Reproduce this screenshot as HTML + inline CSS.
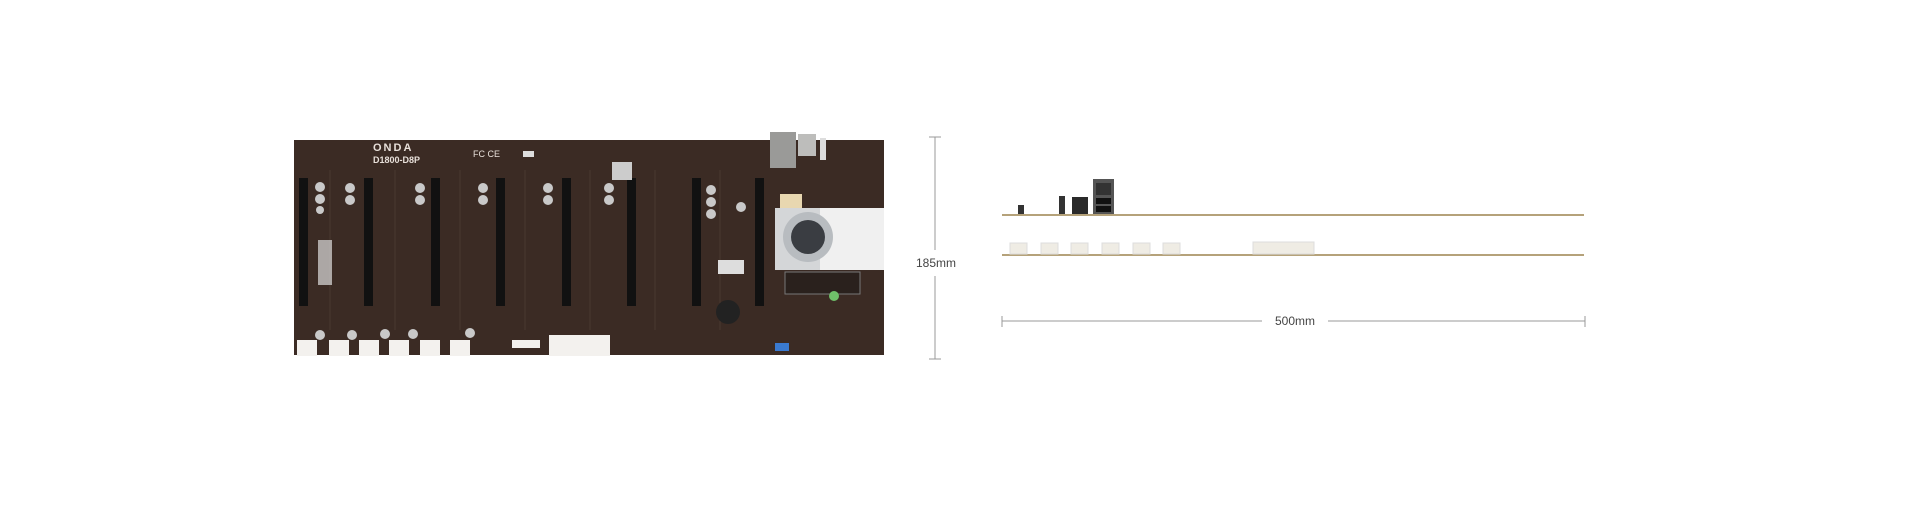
<!DOCTYPE html>
<html><head><meta charset="utf-8"><style>
html,body{margin:0;padding:0;background:#fff;width:1920px;height:528px;overflow:hidden}
svg{display:block}
text{font-family:"Liberation Sans",sans-serif}
</style></head><body>
<svg width="1920" height="528" viewBox="0 0 1920 528" xmlns="http://www.w3.org/2000/svg">
<rect x="294" y="140" width="590" height="215" fill="#3b2b24"/>
<g fill="none" stroke="#4a382f" stroke-width="1">
<path d="M330 170 L330 330 M395 170 L395 330 M460 170 L460 330 M525 170 L525 330 M590 170 L590 330 M655 170 L655 330 M720 170 L720 330"/>
</g>
<text x="373" y="151" font-size="11" fill="#e8e0da" font-weight="bold" letter-spacing="2">ONDA</text>
<text x="373" y="163" font-size="9" fill="#e8e0da" font-weight="bold">D1800-D8P</text>
<text x="473" y="157" font-size="9" fill="#e8e0da">FC CE</text>
<rect x="523" y="151" width="11" height="6" fill="#ddd"/>
<g fill="#111">
<rect x="299" y="178" width="9" height="128"/>
<rect x="364" y="178" width="9" height="128"/>
<rect x="431" y="178" width="9" height="128"/>
<rect x="496" y="178" width="9" height="128"/>
<rect x="562" y="178" width="9" height="128"/>
<rect x="627" y="178" width="9" height="128"/>
<rect x="692" y="178" width="9" height="128"/>
<rect x="755" y="178" width="9" height="128"/>
</g>
<g fill="#c9c9c9">
<circle cx="320" cy="187" r="5"/><circle cx="320" cy="199" r="5"/><circle cx="320" cy="210" r="4"/>
<circle cx="350" cy="188" r="5"/><circle cx="350" cy="200" r="5"/>
<circle cx="420" cy="188" r="5"/><circle cx="420" cy="200" r="5"/>
<circle cx="483" cy="188" r="5"/><circle cx="483" cy="200" r="5"/>
<circle cx="548" cy="188" r="5"/><circle cx="548" cy="200" r="5"/>
<circle cx="609" cy="188" r="5"/><circle cx="609" cy="200" r="5"/>
<circle cx="711" cy="190" r="5"/><circle cx="711" cy="202" r="5"/><circle cx="711" cy="214" r="5"/>
<circle cx="741" cy="207" r="5"/>
<circle cx="320" cy="335" r="5"/><circle cx="352" cy="335" r="5"/><circle cx="385" cy="334" r="5"/><circle cx="413" cy="334" r="5"/><circle cx="470" cy="333" r="5"/>
</g>
<rect x="318" y="240" width="14" height="45" fill="#ddd" opacity="0.7"/>
<rect x="612" y="162" width="20" height="18" fill="#ccc"/>
<g fill="#f3f1ee">
<rect x="297" y="340" width="20" height="16"/><rect x="329" y="340" width="20" height="16"/>
<rect x="359" y="340" width="20" height="16"/><rect x="389" y="340" width="20" height="16"/>
<rect x="420" y="340" width="20" height="16"/><rect x="450" y="340" width="20" height="16"/>
<rect x="549" y="335" width="61" height="21"/>
<rect x="512" y="340" width="28" height="8"/>
</g>
<rect x="770" y="132" width="26" height="36" fill="#9a9a98"/>
<rect x="798" y="134" width="18" height="22" fill="#bdbdbb"/>
<rect x="820" y="138" width="6" height="22" fill="#ddd"/>
<rect x="780" y="194" width="22" height="14" fill="#e8d7b0"/>
<rect x="775" y="208" width="109" height="62" fill="#f0f0f0"/>
<rect x="775" y="208" width="45" height="62" fill="#d4d6d8"/>
<circle cx="808" cy="237" r="25" fill="#b8bcc0"/>
<circle cx="808" cy="237" r="17" fill="#3a3d42"/>
<rect x="785" y="272" width="75" height="22" fill="#2a211d" stroke="#777"/>
<rect x="718" y="260" width="26" height="14" fill="#ddd"/>
<circle cx="728" cy="312" r="12" fill="#222"/>
<circle cx="834" cy="296" r="5" fill="#6fc06a"/>
<rect x="775" y="343" width="14" height="8" fill="#3a7ad0"/>
<g stroke="#999" stroke-width="1">
<line x1="935" y1="137" x2="935" y2="250"/>
<line x1="935" y1="276" x2="935" y2="359"/>
<line x1="929" y1="137" x2="941" y2="137"/>
<line x1="929" y1="359" x2="941" y2="359"/>
</g>
<text x="936" y="267" font-size="12" fill="#444" text-anchor="middle">185mm</text>
<rect x="1002" y="214" width="582" height="2" fill="#b5a27a"/>
<rect x="1002" y="254" width="582" height="2" fill="#b5a27a"/>
<rect x="1018" y="205" width="6" height="9" fill="#333"/>
<rect x="1059" y="196" width="6" height="18" fill="#333"/>
<rect x="1072" y="197" width="16" height="17" fill="#2a2a2a"/>
<rect x="1093" y="179" width="21" height="35" fill="#555"/>
<rect x="1096" y="183" width="15" height="12" fill="#333"/>
<rect x="1096" y="198" width="15" height="6" fill="#111"/>
<rect x="1096" y="206" width="15" height="6" fill="#111"/>
<g fill="#efece4" stroke="#ddd">
<rect x="1010" y="243" width="17" height="11"/><rect x="1041" y="243" width="17" height="11"/>
<rect x="1071" y="243" width="17" height="11"/><rect x="1102" y="243" width="17" height="11"/>
<rect x="1133" y="243" width="17" height="11"/><rect x="1163" y="243" width="17" height="11"/>
<rect x="1253" y="242" width="61" height="12"/>
</g>
<g stroke="#999" stroke-width="1">
<line x1="1002" y1="321" x2="1262" y2="321"/>
<line x1="1328" y1="321" x2="1585" y2="321"/>
<line x1="1002" y1="316" x2="1002" y2="327"/>
<line x1="1585" y1="316" x2="1585" y2="327"/>
</g>
<text x="1295" y="325" font-size="12" fill="#444" text-anchor="middle">500mm</text>
</svg>
</body></html>
